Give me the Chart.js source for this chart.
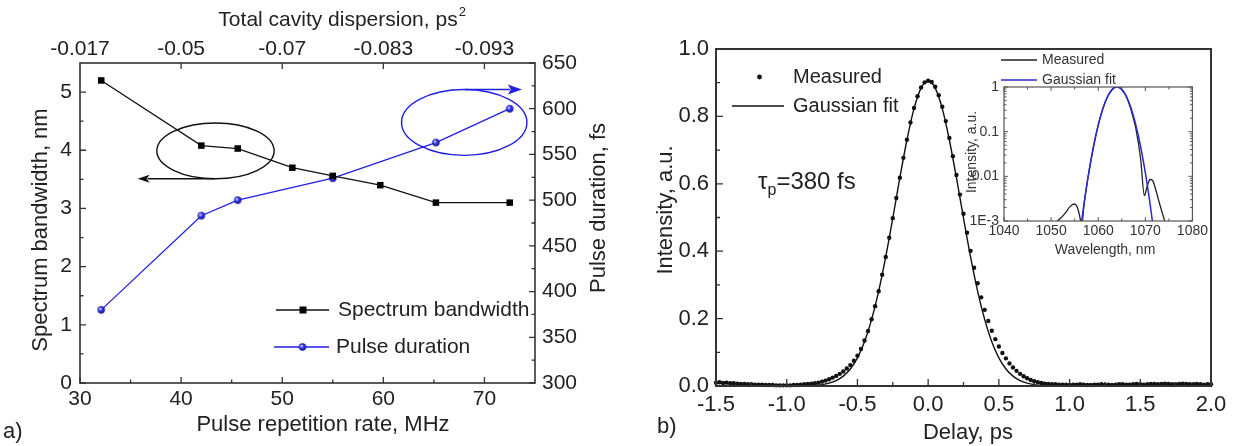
<!DOCTYPE html>
<html>
<head>
<meta charset="utf-8">
<script src="https://cdn.jsdelivr.net/npm/chart.js@4.4.1/dist/chart.umd.min.js"></script>
<style>
  body { margin: 0; background: #fff; }
  #wrap { position: relative; width: 1238px; height: 446px; overflow: hidden; }
  canvas { position: absolute; }
</style>
</head>
<body>
<div id="wrap">
  <canvas id="chartA" width="619" height="446" style="left:0;top:0"></canvas>
  <canvas id="chartB" width="619" height="446" style="left:619px;top:0"></canvas>
  <canvas id="chartInset" width="270" height="230" style="left:940px;top:40px"></canvas>
</div>
<script>
// ---- panel a: bandwidth / pulse duration vs repetition rate ----
const repRate   = [32.1, 42.0, 45.6, 51.0, 55.0, 59.7, 65.2, 72.5];
const bandwidth = [5.20, 4.08, 4.03, 3.70, 3.56, 3.40, 3.10, 3.10];
const durRate   = [32.1, 42.0, 45.6, 55.0, 65.2, 72.5];
const duration  = [380, 483, 500, 524, 563, 600];
const dispersionLabels = ['-0.017', '-0.05', '-0.07', '-0.083', '-0.093'];

// ---- panel b: autocorrelation trace ----
const delay = [
  -1.5, -1.475, -1.45, -1.425, -1.4, -1.375, -1.35, -1.325, -1.3, -1.275, -1.25, -1.225, -1.2, -1.175, -1.15, -1.125,
  -1.1, -1.075, -1.05, -1.025, -1.0, -0.975, -0.95, -0.925, -0.9, -0.875, -0.85, -0.825, -0.8, -0.775, -0.75, -0.725,
  -0.7, -0.675, -0.65, -0.625, -0.6, -0.575, -0.55, -0.525, -0.5, -0.475, -0.45, -0.425, -0.4, -0.375, -0.35, -0.325,
  -0.3, -0.275, -0.25, -0.225, -0.2, -0.175, -0.15, -0.125, -0.1, -0.075, -0.05, -0.025, 0.0, 0.025, 0.05, 0.075,
  0.1, 0.125, 0.15, 0.175, 0.2, 0.225, 0.25, 0.275, 0.3, 0.325, 0.35, 0.375, 0.4, 0.425, 0.45, 0.475,
  0.5, 0.525, 0.55, 0.575, 0.6, 0.625, 0.65, 0.675, 0.7, 0.725, 0.75, 0.775, 0.8, 0.825, 0.85, 0.875,
  0.9, 0.925, 0.95, 0.975, 1.0, 1.025, 1.05, 1.075, 1.1, 1.125, 1.15, 1.175, 1.2, 1.225, 1.25, 1.275,
  1.3, 1.325, 1.35, 1.375, 1.4, 1.425, 1.45, 1.475, 1.5, 1.525, 1.55, 1.575, 1.6, 1.625, 1.65, 1.675,
  1.7, 1.725, 1.75, 1.775, 1.8, 1.825, 1.85, 1.875, 1.9, 1.925, 1.95, 1.975, 2.0
];
const measured = [
  0.010, 0.011, 0.009, 0.010, 0.008, 0.008, 0.007, 0.006, 0.006, 0.005, 0.005, 0.004, 0.004, 0.004, 0.003, 0.003,
  0.003, 0.002, 0.002, 0.002, 0.002, 0.002, 0.003, 0.003, 0.004, 0.005, 0.006, 0.007, 0.008, 0.010, 0.013, 0.016,
  0.020, 0.025, 0.030, 0.036, 0.043, 0.052, 0.062, 0.075, 0.090, 0.110, 0.135, 0.163, 0.198, 0.237, 0.281, 0.330,
  0.383, 0.440, 0.498, 0.558, 0.618, 0.677, 0.731, 0.782, 0.825, 0.860, 0.886, 0.901, 0.906, 0.902, 0.888, 0.863,
  0.829, 0.786, 0.736, 0.682, 0.626, 0.568, 0.511, 0.455, 0.401, 0.351, 0.305, 0.263, 0.226, 0.193, 0.164, 0.139,
  0.117, 0.098, 0.082, 0.067, 0.055, 0.045, 0.036, 0.029, 0.023, 0.018, 0.014, 0.011, 0.009, 0.007, 0.006, 0.005,
  0.005, 0.004, 0.004, 0.004, 0.003, 0.004, 0.004, 0.005, 0.004, 0.003, 0.003, 0.004, 0.004, 0.005, 0.004, 0.004,
  0.003, 0.004, 0.005, 0.005, 0.004, 0.004, 0.005, 0.006, 0.005, 0.004, 0.005, 0.006, 0.006, 0.005, 0.006, 0.007,
  0.006, 0.005, 0.005, 0.006, 0.007, 0.006, 0.005, 0.005, 0.006, 0.005, 0.004, 0.005, 0.005
];
const fitDelay = [
  -1.5, -1.0, -0.95, -0.9, -0.85, -0.8, -0.75, -0.7, -0.65, -0.6, -0.55, -0.5, -0.45, -0.4, -0.35, -0.3, -0.25,
  -0.2, -0.15, -0.1, -0.05, 0.0, 0.05, 0.1, 0.15, 0.2, 0.25, 0.3, 0.35, 0.4, 0.45, 0.5, 0.55, 0.6, 0.65, 0.7,
  0.75, 0.8, 0.85, 0.9, 0.95, 1.0, 2.0
];
const fitValue = [
  0, 0, 0.0002, 0.0004, 0.001, 0.002, 0.0042, 0.0084, 0.0161, 0.0292, 0.0505, 0.0833, 0.131, 0.197, 0.281, 0.383, 0.498,
  0.618, 0.730, 0.823, 0.884, 0.905, 0.884, 0.823, 0.730, 0.618, 0.498, 0.383, 0.281, 0.197, 0.131, 0.0833, 0.0505, 0.0292, 0.0161, 0.0084,
  0.0042, 0.002, 0.001, 0.0004, 0.0002, 0, 0
];

// ---- inset: spectrum on log scale ----
const specWl   = [1051.3, 1052, 1053, 1054, 1054.9, 1055.5, 1056, 1056.5, 1057, 1058, 1059, 1060, 1061, 1062, 1063,
                  1063.5, 1064, 1064.5, 1065, 1066, 1067, 1068, 1069, 1069.8, 1070.3, 1071, 1071.5, 1072, 1073, 1074.1];
const specMeas = [0.001, 0.00115, 0.0015, 0.0021, 0.0024, 0.0021, 0.0014, 0.0008, 0.0024, 0.012, 0.046, 0.14, 0.33, 0.61, 0.89,
                  0.98, 1.0, 0.97, 0.88, 0.6, 0.3, 0.115, 0.025, 0.0037, 0.0055, 0.0085, 0.0082, 0.006, 0.0025, 0.001];
const fitWl    = [1056.5, 1057, 1058, 1059, 1060, 1061, 1062, 1063, 1064, 1065, 1066, 1067, 1068, 1069, 1070, 1071, 1071.5];
const fitSpec  = [0.001, 0.00245, 0.0121, 0.0465, 0.140, 0.331, 0.612, 0.885, 1.0, 0.885, 0.612, 0.331, 0.140, 0.0465, 0.0121, 0.00245, 0.001];
const insetYLabels = ['1E-3', '0.01', '0.1', '1'];

// minor tick positions
const rateMinor = [35, 45, 55, 65];
const dispTicks = [40, 50, 60, 70];
const bwMinor = [0.5, 1.5, 2.5, 3.5, 4.5];
const durMinor = [325, 375, 425, 475, 525, 575, 625];
const delayMinor = [-1.25, -0.75, -0.25, 0.25, 0.75, 1.25, 1.75];
const intMinor = [0.1, 0.3, 0.5, 0.7, 0.9];
const wlMinor = [1045, 1055, 1065, 1075];
const logMajor = [0.001, 0.01, 0.1, 1];
const logMinor = [0.002, 0.003, 0.004, 0.005, 0.006, 0.007, 0.008, 0.009,
                  0.02, 0.03, 0.04, 0.05, 0.06, 0.07, 0.08, 0.09,
                  0.2, 0.3, 0.4, 0.5, 0.6, 0.7, 0.8, 0.9];

// annotations in data units (ellipse + arrow pointing to the axis)
const bwEllipse = { x: 43.4, y: 3.99, rx: 5.8, ry: 0.48 };
const bwArrow = { from: [43.3, 3.51], to: [35.7, 3.51] };
const durEllipse = { x: 68.0, y: 585, rx: 6.2, ry: 36 };
const durArrow = { from: [68.1, 621], to: [73.7, 621] };

const FONT = '"Liberation Sans", Arial, sans-serif';
const INK = '#222';
const BLUE = '#1f1fe0';
Chart.defaults.font.family = FONT;
Chart.defaults.color = INK;

function makeBall(r) {
    const c = document.createElement('canvas');
    const s = Math.ceil(r * 2) + 2;
    c.width = c.height = s;
    const g = c.getContext('2d');
    const grad = g.createRadialGradient(s / 2 - r * 0.35, s / 2 - r * 0.35, r * 0.1, s / 2, s / 2, r);
    grad.addColorStop(0, '#d0d6ff');
    grad.addColorStop(0.45, '#3a3af2');
    grad.addColorStop(1, '#0a0a8c');
    g.fillStyle = grad;
    g.beginPath();
    g.arc(s / 2, s / 2, r, 0, Math.PI * 2);
    g.fill();
    return c;
}
const ball = makeBall(3.7);

function drawText(ctx, str, x, y, size, opts = {}) {
    ctx.save();
    ctx.font = `${size}px ${FONT}`;
    ctx.fillStyle = opts.color || INK;
    ctx.textAlign = opts.align || 'left';
    ctx.textBaseline = 'middle';
    ctx.translate(x, y);
    if (opts.rotate) ctx.rotate(opts.rotate);
    ctx.fillText(str, 0, 0);
    ctx.restore();
}

function drawEllipse(ctx, xs, ys, e) {
    const cx = xs.getPixelForValue(e.x), cy = ys.getPixelForValue(e.y);
    const rx = Math.abs(xs.getPixelForValue(e.x + e.rx) - cx);
    const ry = Math.abs(ys.getPixelForValue(e.y + e.ry) - cy);
    ctx.beginPath();
    ctx.ellipse(cx, cy, rx, ry, 0, 0, Math.PI * 2);
    ctx.stroke();
}

function drawArrow(ctx, xs, ys, a, len, half) {
    const x0 = xs.getPixelForValue(a.from[0]), y0 = ys.getPixelForValue(a.from[1]);
    const x1 = xs.getPixelForValue(a.to[0]), y1 = ys.getPixelForValue(a.to[1]);
    const ang = Math.atan2(y1 - y0, x1 - x0);
    const bx = x1 - len * Math.cos(ang), by = y1 - len * Math.sin(ang);
    ctx.beginPath();
    ctx.moveTo(x0, y0);
    ctx.lineTo(bx + 2 * Math.cos(ang), by + 2 * Math.sin(ang));
    ctx.stroke();
    ctx.beginPath();
    ctx.moveTo(x1, y1);
    ctx.lineTo(bx + half * Math.sin(ang), by - half * Math.cos(ang));
    ctx.lineTo(bx + 3 * Math.cos(ang), by + 3 * Math.sin(ang));
    ctx.lineTo(bx - half * Math.sin(ang), by + half * Math.cos(ang));
    ctx.closePath();
    ctx.fill();
}

// frame around the plot area plus Origin-style inward ticks
function makeFrame(cfg) {
    return {
        id: 'frame',
        afterDraw(chart) {
            const ctx = chart.ctx, a = chart.chartArea;
            ctx.save();
            ctx.strokeStyle = cfg.color;
            ctx.lineWidth = cfg.tickWidth;
            cfg.ticks.forEach(t => {
                const sc = chart.scales[t.scale];
                const vals = t.values === 'major' ? sc.ticks.map(k => k.value) : t.values;
                ctx.beginPath();
                vals.forEach(v => {
                    const p = sc.getPixelForValue(v);
                    if (t.side === 'bottom') { ctx.moveTo(p, a.bottom); ctx.lineTo(p, a.bottom - t.len); }
                    if (t.side === 'top') { ctx.moveTo(p, a.top); ctx.lineTo(p, a.top + t.len); }
                    if (t.side === 'left') { ctx.moveTo(a.left, p); ctx.lineTo(a.left + t.len, p); }
                    if (t.side === 'right') { ctx.moveTo(a.right, p); ctx.lineTo(a.right - t.len, p); }
                });
                ctx.stroke();
            });
            ctx.lineWidth = cfg.frameWidth;
            ctx.strokeRect(a.left, a.top, a.right - a.left, a.bottom - a.top);
            ctx.restore();
        }
    };
}

function axis(extra) {
    return Object.assign({ grid: { display: false, drawTicks: false }, border: { display: false } }, extra);
}

// ================= panel a =================
const decorA = {
    id: 'decorA',
    afterDraw(chart) {
        const ctx = chart.ctx;
        const xs = chart.scales.x, ys = chart.scales.y, y1 = chart.scales.y1;
        ctx.save();
        ctx.lineWidth = 1.4;
        ctx.strokeStyle = '#111';
        ctx.fillStyle = '#111';
        drawEllipse(ctx, xs, ys, bwEllipse);
        drawArrow(ctx, xs, ys, bwArrow, 12, 4);
        ctx.strokeStyle = BLUE;
        ctx.fillStyle = BLUE;
        drawEllipse(ctx, xs, y1, durEllipse);
        drawArrow(ctx, xs, y1, durArrow, 14, 5);

        // legend
        ctx.lineWidth = 1.3;
        ctx.strokeStyle = '#111';
        ctx.beginPath(); ctx.moveTo(276, 310); ctx.lineTo(329, 310); ctx.stroke();
        ctx.fillStyle = '#000';
        ctx.fillRect(299.5, 306.5, 7, 7);
        ctx.strokeStyle = BLUE;
        ctx.beginPath(); ctx.moveTo(274, 347); ctx.lineTo(329, 347); ctx.stroke();
        ctx.drawImage(ball, 302.5 - ball.width / 2, 347 - ball.height / 2);
        ctx.restore();
        drawText(ctx, 'Spectrum bandwidth', 338, 310, 21);
        drawText(ctx, 'Pulse duration', 336, 347, 21);

        // axis titles
        drawText(ctx, 'Spectrum bandwidth, nm', 41, 230, 22, { align: 'center', rotate: -Math.PI / 2 });
        drawText(ctx, 'Pulse duration, fs', 599, 208, 22, { align: 'center', rotate: -Math.PI / 2 });
        drawText(ctx, 'Pulse repetition rate, MHz', 323, 425, 22, { align: 'center' });
        ctx.save();
        ctx.font = `21px ${FONT}`;
        const main = 'Total cavity dispersion, ps';
        const w = ctx.measureText(main).width;
        ctx.restore();
        drawText(ctx, main, 342 - (w + 8) / 2, 20, 21);
        drawText(ctx, '2', 342 - (w + 8) / 2 + w + 1, 12, 13);
        drawText(ctx, 'a)', 3, 432, 22);
    }
};

new Chart(document.getElementById('chartA'), {
    type: 'line',
    data: {
        datasets: [{
            label: 'Spectrum bandwidth',
            data: repRate.map((x, i) => ({ x, y: bandwidth[i] })),
            xAxisID: 'x', yAxisID: 'y',
            borderColor: '#111', borderWidth: 1.3,
            pointStyle: 'rect', pointRadius: 4.6,
            pointBackgroundColor: '#000', pointBorderWidth: 0
        }, {
            label: 'Pulse duration',
            data: durRate.map((x, i) => ({ x, y: duration[i] })),
            xAxisID: 'x', yAxisID: 'y1',
            borderColor: BLUE, borderWidth: 1.3,
            pointStyle: ball, pointRadius: 3.7
        }]
    },
    options: {
        responsive: false,
        animation: false,
        layout: { padding: 0 },
        plugins: { legend: { display: false }, tooltip: { enabled: false } },
        scales: {
            x: axis({
                type: 'linear', position: 'bottom', min: 30, max: 75,
                ticks: { stepSize: 10, includeBounds: false, autoSkip: false, maxRotation: 0, padding: 4, font: { size: 21 } },
                afterFit: s => { s.height = 63; }
            }),
            x2: axis({
                type: 'linear', axis: 'x', position: 'top', min: 30, max: 75,
                ticks: {
                    stepSize: 10, includeBounds: false, autoSkip: false, maxRotation: 0, padding: 1, font: { size: 21 },
                    callback: v => dispersionLabels[Math.round((v - 30) / 10)]
                },
                afterFit: s => { s.height = 63; }
            }),
            y: axis({
                type: 'linear', position: 'left', min: 0, max: 5.5,
                ticks: { stepSize: 1, includeBounds: false, autoSkip: false, padding: 8, font: { size: 21 } },
                afterFit: s => { s.width = 80; }
            }),
            y1: axis({
                type: 'linear', position: 'right', min: 300, max: 650,
                ticks: { stepSize: 50, includeBounds: false, autoSkip: false, padding: 7, font: { size: 21 } },
                afterFit: s => { s.width = 84; }
            })
        }
    },
    plugins: [makeFrame({
        color: '#333', tickWidth: 1.3, frameWidth: 1.6,
        ticks: [
            { scale: 'x', side: 'bottom', values: 'major', len: 6 },
            { scale: 'x', side: 'bottom', values: rateMinor, len: 3.5 },
            { scale: 'x2', side: 'top', values: dispTicks, len: 6 },
            { scale: 'y', side: 'left', values: 'major', len: 6 },
            { scale: 'y', side: 'left', values: bwMinor, len: 3.5 },
            { scale: 'y1', side: 'right', values: 'major', len: 6 },
            { scale: 'y1', side: 'right', values: durMinor, len: 3.5 }
        ]
    }), decorA]
});

// ================= panel b =================
const decorB = {
    id: 'decorB',
    afterDraw(chart) {
        const ctx = chart.ctx;
        ctx.save();
        ctx.fillStyle = '#111';
        ctx.beginPath(); ctx.arc(140.5, 77, 2.4, 0, Math.PI * 2); ctx.fill();
        ctx.strokeStyle = '#111';
        ctx.lineWidth = 1.4;
        ctx.beginPath(); ctx.moveTo(113, 106); ctx.lineTo(165, 106); ctx.stroke();
        ctx.restore();
        drawText(ctx, 'Measured', 174, 77, 20);
        drawText(ctx, 'Gaussian fit', 174, 106, 20);

        // pulse duration note
        ctx.save();
        ctx.font = `24px ${FONT}`;
        const wt = ctx.measureText('\u03c4').width;
        ctx.font = `16px ${FONT}`;
        const wp = ctx.measureText('p').width;
        ctx.restore();
        drawText(ctx, '\u03c4', 139, 182, 24);
        drawText(ctx, 'p', 139 + wt, 191, 16);
        drawText(ctx, '=380 fs', 139 + wt + wp, 182, 24);

        drawText(ctx, 'Intensity, a.u.', 47, 210, 22, { align: 'center', rotate: -Math.PI / 2 });
        drawText(ctx, 'Delay, ps', 349, 433, 22, { align: 'center' });
        drawText(ctx, 'b)', 38, 427, 22);
    }
};

new Chart(document.getElementById('chartB'), {
    type: 'line',
    data: {
        datasets: [{
            label: 'Gaussian fit',
            data: fitDelay.map((x, i) => ({ x, y: fitValue[i] })),
            borderColor: '#111', borderWidth: 1.4,
            pointRadius: 0, cubicInterpolationMode: 'monotone'
        }, {
            label: 'Measured',
            data: delay.map((x, i) => ({ x, y: measured[i] })),
            showLine: false, clip: false,
            pointRadius: 2.2, pointBackgroundColor: '#111', pointBorderWidth: 0
        }]
    },
    options: {
        responsive: false,
        animation: false,
        layout: { padding: { top: 49, right: 27, left: 0, bottom: 0 } },
        plugins: { legend: { display: false }, tooltip: { enabled: false } },
        scales: {
            x: axis({
                type: 'linear', position: 'bottom', min: -1.5, max: 2.0,
                ticks: { stepSize: 0.5, autoSkip: false, maxRotation: 0, padding: 6, font: { size: 22 }, callback: v => v.toFixed(1) },
                afterFit: s => { s.height = 60; }
            }),
            y: axis({
                type: 'linear', position: 'left', min: 0, max: 1.0,
                ticks: { stepSize: 0.2, autoSkip: false, padding: 7, font: { size: 22 }, callback: v => v.toFixed(1) },
                afterFit: s => { s.width = 97; }
            })
        }
    },
    plugins: [makeFrame({
        color: '#333', tickWidth: 1.3, frameWidth: 2,
        ticks: [
            { scale: 'x', side: 'bottom', values: 'major', len: 7 },
            { scale: 'x', side: 'bottom', values: delayMinor, len: 4 },
            { scale: 'y', side: 'left', values: 'major', len: 7 },
            { scale: 'y', side: 'left', values: intMinor, len: 4 }
        ]
    }), decorB]
});

// ================= inset =================
const decorInset = {
    id: 'decorInset',
    afterDraw(chart) {
        const ctx = chart.ctx;
        ctx.save();
        ctx.lineWidth = 1.4;
        ctx.strokeStyle = '#222';
        ctx.beginPath(); ctx.moveTo(61, 20); ctx.lineTo(97, 20); ctx.stroke();
        ctx.strokeStyle = '#2a2ad0';
        ctx.beginPath(); ctx.moveTo(61, 40); ctx.lineTo(97, 40); ctx.stroke();
        ctx.restore();
        drawText(ctx, 'Measured', 102, 20, 14, { color: '#333' });
        drawText(ctx, 'Gaussian fit', 102, 40, 14, { color: '#333' });
        drawText(ctx, 'Intensity, a.u.', 32, 112, 14, { align: 'center', rotate: -Math.PI / 2, color: '#333' });
        drawText(ctx, 'Wavelength, nm', 165, 210, 14, { align: 'center', color: '#333' });
    }
};

new Chart(document.getElementById('chartInset'), {
    type: 'line',
    data: {
        datasets: [{
            label: 'Gaussian fit',
            data: fitWl.map((x, i) => ({ x, y: fitSpec[i] })),
            borderColor: '#2a2ad0', borderWidth: 1.5,
            pointRadius: 0, cubicInterpolationMode: 'monotone', order: 1
        }, {
            label: 'Measured',
            data: specWl.map((x, i) => ({ x, y: specMeas[i] })),
            borderColor: '#222', borderWidth: 1.3,
            pointRadius: 0, cubicInterpolationMode: 'monotone', order: 2
        }]
    },
    options: {
        responsive: false,
        animation: false,
        layout: { padding: { top: 47, right: 13, left: 0, bottom: 0 } },
        plugins: { legend: { display: false }, tooltip: { enabled: false } },
        scales: {
            x: axis({
                type: 'linear', position: 'bottom', min: 1040, max: 1080,
                ticks: {
                    stepSize: 10, autoSkip: false, maxRotation: 0, padding: 2, font: { size: 14 }, color: '#333',
                    callback: v => String(Math.round(v))
                },
                afterFit: s => { s.height = 49; }
            }),
            y: axis({
                type: 'logarithmic', position: 'left', min: 0.001, max: 1,
                ticks: {
                    autoSkip: false, padding: 5, font: { size: 14 }, color: '#333',
                    callback: v => {
                        const k = Math.log10(v);
                        return Math.abs(k - Math.round(k)) < 1e-6 ? insetYLabels[Math.round(k) + 3] : '';
                    }
                },
                afterFit: s => { s.width = 64; }
            })
        }
    },
    plugins: [makeFrame({
        color: '#555', tickWidth: 1, frameWidth: 1.2,
        ticks: [
            { scale: 'x', side: 'bottom', values: 'major', len: 4 },
            { scale: 'x', side: 'bottom', values: wlMinor, len: 2.5 },
            { scale: 'x', side: 'top', values: 'major', len: 4 },
            { scale: 'x', side: 'top', values: wlMinor, len: 2.5 },
            { scale: 'y', side: 'left', values: logMajor, len: 4 },
            { scale: 'y', side: 'left', values: logMinor, len: 2.5 },
            { scale: 'y', side: 'right', values: logMajor, len: 4 },
            { scale: 'y', side: 'right', values: logMinor, len: 2.5 }
        ]
    }), decorInset]
});
</script>
</body>
</html>
